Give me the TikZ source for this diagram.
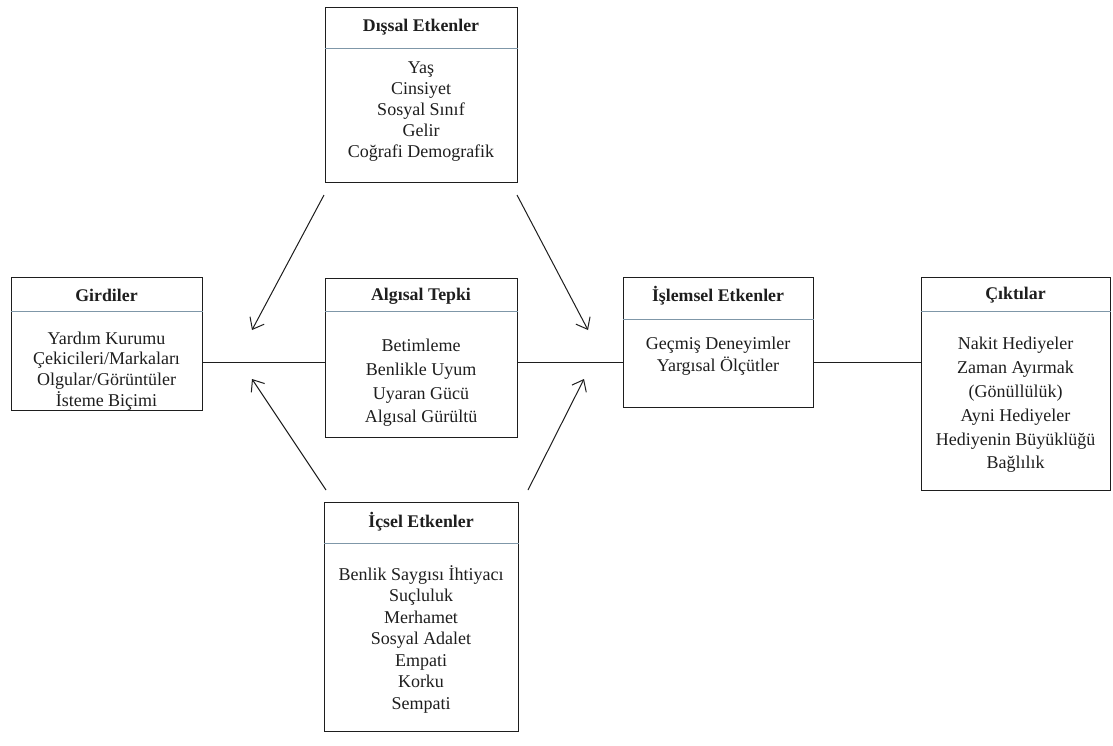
\documentclass[tikz,border=0pt]{standalone}
\usepackage{fontspec}
\setmainfont{Liberation Serif}
\usetikzlibrary{arrows.meta}
\definecolor{ink}{HTML}{1E1E1E}
\definecolor{rulecol}{HTML}{7F97A8}
\tikzset{
  panel/.style={draw=ink, line width=1.3pt, fill=white, inner sep=0pt, anchor=north west},
  divider/.style={draw=rulecol, line width=1pt},
  titletext/.style={text=ink, font=\bfseries\fontsize{17.8}{20}\selectfont, inner sep=0pt},
  bodytext/.style={text=ink, align=center, inner sep=0pt, font=\fontsize{18}{#1}\selectfont},
  link/.style={draw=ink, line width=1pt},
  flow/.style={draw=ink, line width=1pt, -{Straight Barb[length=10pt,width=16pt,line width=1pt]}}
}
\begin{document}
\begin{tikzpicture}[x=1pt, y=-1pt]
  \path[fill=white] (0,0) rectangle (1113,745);
  \useasboundingbox (0,0) rectangle (1113,745);

  % horizontal axis of the chain
  \coordinate (axis) at (0,362);

  % panels
  \node[panel, minimum width=192pt, minimum height=175pt] (dis) at (325,7) {};
  \node[panel, minimum width=191pt, minimum height=133pt] (gir) at (11,277) {};
  \node[panel, minimum width=192pt, minimum height=159pt] (alg) at (325,278) {};
  \node[panel, minimum width=190pt, minimum height=130pt] (isl) at (623,277) {};
  \node[panel, minimum width=189pt, minimum height=213pt] (cik) at (921,277) {};
  \node[panel, minimum width=194pt, minimum height=229pt] (ics) at (324,502) {};

  % header rules
  \draw[divider] (dis.west |- 0,48) -- (dis.east |- 0,48);
  \draw[divider] (gir.west |- 0,311) -- (gir.east |- 0,311);
  \draw[divider] (alg.west |- 0,311) -- (alg.east |- 0,311);
  \draw[divider] (isl.west |- 0,319) -- (isl.east |- 0,319);
  \draw[divider] (cik.west |- 0,311) -- (cik.east |- 0,311);
  \draw[divider] (ics.west |- 0,543) -- (ics.east |- 0,543);

  % titles
  \node[titletext] (disT) at (421,27) {Dışsal Etkenler};
  \node[titletext] (girT) at (106.5,295) {Girdiler};
  \node[titletext] (algT) at (421,296) {Algısal Tepki};
  \node[titletext] (islT) at (718,296) {İşlemsel Etkenler};
  \node[titletext] (cikT) at (1015.5,295) {Çıktılar};
  \node[titletext] (icsT) at (421,522) {İçsel Etkenler};

  % contents
  \node[bodytext=21] (disB) at (421,112) {Yaş\\Cinsiyet\\Sosyal Sınıf\\Gelir\\Coğrafi Demografik};
  \node[bodytext=20.7] (girB) at (106.5,371) {Yardım Kurumu\\Çekicileri/Markaları\\Olgular/Görüntüler\\İsteme Biçimi};
  \node[bodytext=23.7] (algB) at (421,383) {Betimleme\\Benlikle Uyum\\Uyaran Gücü\\Algısal Gürültü};
  \node[bodytext=22] (islB) at (718,356) {Geçmiş Deneyimler\\Yargısal Ölçütler};
  \node[bodytext=23.8] (cikB) at (1015.5,405) {Nakit Hediyeler\\Zaman Ayırmak\\(Gönüllülük)\\Ayni Hediyeler\\Hediyenin Büyüklüğü\\Bağlılık};
  \node[bodytext=21.5] (icsB) at (421,639) {Benlik Saygısı İhtiyacı\\Suçluluk\\Merhamet\\Sosyal Adalet\\Empati\\Korku\\Sempati};

  % chain links
  \draw[link] (gir.east |- axis) -- (alg.west |- axis);
  \draw[link] (alg.east |- axis) -- (isl.west |- axis);
  \draw[link] (isl.east |- axis) -- (cik.west |- axis);

  % influence arrows
  \coordinate (a1s) at (324,195);  \coordinate (a1e) at (252,330);
  \coordinate (a2s) at (517,195);  \coordinate (a2e) at (588,330);
  \coordinate (a3s) at (326,490);  \coordinate (a3e) at (252,379);
  \coordinate (a4s) at (528,490);  \coordinate (a4e) at (584,379);
  \draw[flow] (a1s) -- (a1e);
  \draw[flow] (a2s) -- (a2e);
  \draw[flow] (a3s) -- (a3e);
  \draw[flow] (a4s) -- (a4e);
\end{tikzpicture}
\end{document}
